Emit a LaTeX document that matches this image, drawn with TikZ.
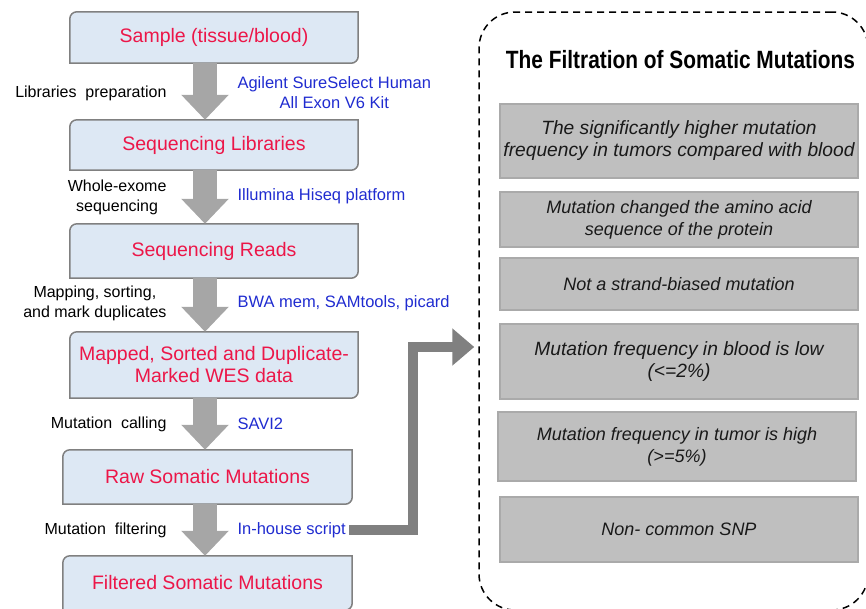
\documentclass[tikz,border=0pt]{standalone}
\usepackage{fontspec}
\setmainfont{Liberation Sans}
\newfontfamily\titlefont[FakeStretch=0.835]{Liberation Sans}
\usepackage{tikz}
\usetikzlibrary{positioning,arrows.meta,backgrounds,calc}
\definecolor{stagefill}{RGB}{221,232,244}
\definecolor{stageedge}{RGB}{128,128,128}
\definecolor{stagetxt}{RGB}{236,22,72}
\definecolor{tooltxt}{RGB}{32,44,208}
\definecolor{flowclr}{RGB}{166,166,166}
\definecolor{feedclr}{RGB}{128,128,128}
\definecolor{critfill}{RGB}{191,191,191}
\definecolor{critedge}{RGB}{170,170,170}
\tikzset{
    stage/.style={rectangle,minimum width=288pt,text=stagetxt,align=center,
        font=\fontsize{19.5}{22}\selectfont,inner sep=2pt},
    stageline/.style={draw=stageedge,fill=stagefill,line width=1.5pt},
    stageshade/.style={fill=black!22},
    step lbl/.style={anchor=east,align=center,font=\fontsize{16}{20}\selectfont},
    tool/.style={anchor=west,align=center,text=tooltxt,font=\fontsize{16.5}{20}\selectfont},
    flow/.style={draw=flowclr,line width=24pt,-{Triangle[length=25pt,width=46pt]}},
    feed/.style={draw=feedclr,line width=10pt,line join=miter,
        -{Triangle[length=22pt,width=36pt]},shorten >=4pt},
    panel/.style={draw=black,dashed,dash pattern=on 7pt off 5pt,line width=1.5pt,
        rounded corners=36pt},
    crit/.style={rectangle,draw=critedge,fill=critfill,line width=1.5pt,
        minimum width=358pt,align=center,text=black!90,
        font=\fontsize{18}{22}\selectfont\itshape},
    crit big/.style={crit,font=\fontsize{19.2}{22}\selectfont\itshape},
}
\begin{document}
\begin{tikzpicture}[x=1pt,y=-1pt]
\useasboundingbox (0,0) rectangle (866,608);
\clip (0,0) rectangle (866,608);

% stages (left column)
\node[stage,minimum height=51pt] (smp) at (214,37.5) {Sample (tissue/blood)};
\node[stage,minimum height=50pt] (lib) at (214,145) {Sequencing Libraries};
\node[stage,minimum height=54pt] (rds) at (214,251) {Sequencing Reads};
\node[stage,minimum height=66pt] (map) at (214,365) {Mapped, Sorted and Duplicate-\\Marked WES data};
\node[stage,minimum height=54pt,minimum width=289pt] (raw) at (207.5,477) {Raw Somatic Mutations};
\node[stage,minimum height=54pt,minimum width=289pt] (flt) at (207.5,583) {Filtered Somatic Mutations};

\begin{scope}[on background layer]
\foreach \n in {smp,lib,rds,map,raw,flt}{
    \fill[stageshade,xshift=2.5pt,yshift=-2.5pt] (\n.south west) [rounded corners=7pt] -- (\n.north west) [sharp corners] -- (\n.north east) [rounded corners=7pt] -- (\n.south east) [sharp corners] -- cycle;
    \draw[stageline] (\n.south west) [rounded corners=7pt] -- (\n.north west) [sharp corners] -- (\n.north east) [rounded corners=7pt] -- (\n.south east) [sharp corners] -- cycle;
}
\end{scope}

% block arrows
\coordinate (ax) at (205,0);
\draw[flow] (smp.south -| ax) -- (lib.north -| ax);
\draw[flow] (lib.south -| ax) -- (rds.north -| ax);
\draw[flow] (rds.south -| ax) -- (map.north -| ax);
\draw[flow] (map.south -| ax) -- (raw.north -| ax);
\draw[flow] (raw.south -| ax) -- (flt.north -| ax);

% step labels
\node[step lbl] (s1) at (170,93)  {Libraries\ \ preparation};
\node[step lbl] (s2) at (170,197) {Whole-exome\\sequencing};
\node[step lbl] (s3) at (170,303) {Mapping, sorting,\\and mark duplicates};
\node[step lbl] (s4) at (170,424) {Mutation\ \ calling};
\node[step lbl] (s5) at (170,530) {Mutation\ \ filtering};

% tools
\node[tool] (t1) at (234,93)  {Agilent SureSelect Human\\All Exon V6 Kit};
\node[tool] (t2) at (234,196) {Illumina Hiseq platform};
\node[tool] (t3) at (234,303) {BWA mem, SAMtools, picard};
\node[tool] (t4) at (234,424) {SAVI2};
\node[tool] (ih) at (234,530) {In-house script};

% filtration panel
\node[panel,minimum width=389pt,minimum height=598pt] (pnl) at (673.5,311) {};
\node[font=\titlefont\bfseries\fontsize{25}{28}\selectfont] (ttl) at (680.5,60) {The Filtration of Somatic Mutations};
\node[crit big,minimum height=74pt] (c1) at (679,141)   {The significantly higher mutation\\frequency in tumors compared with blood};
\node[crit,minimum height=55pt] (c2) at (679,219.5) {Mutation changed the amino acid\\sequence of the protein};
\node[crit,minimum height=52pt] (c3) at (679,284)   {Not a strand-biased mutation};
\node[crit big,minimum height=75pt] (c4) at (679,361.5) {Mutation frequency in blood is low\\(<=2\%)};
\node[crit,minimum height=69pt] (c5) at (677,446.5) {Mutation frequency in tumor is high\\(>=5\%)};
\node[crit,minimum height=65pt] (c6) at (679,529.5) {Non- common SNP};

% feed into panel
\coordinate (bend) at (413,347);
\draw[feed] (ih.east) -| (bend) -- (bend -| pnl.west);
\end{tikzpicture}
\end{document}
